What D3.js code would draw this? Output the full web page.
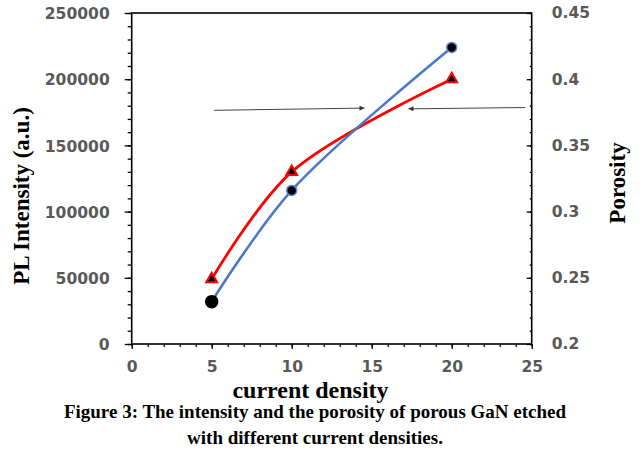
<!DOCTYPE html>
<html>
<head>
<meta charset="utf-8">
<script src="https://cdn.jsdelivr.net/npm/d3@7/dist/d3.min.js"></script>
<style>
  html, body { margin: 0; padding: 0; background: #ffffff; }
  svg { display: block; }
</style>
</head>
<body>
<svg id="chart" width="643" height="460"></svg>
<script>
// ---- data ----
const currentDensity = [5, 10, 20];
const plIntensity = [49000, 130000, 200000];      // red triangles, left axis
const porosity = [0.232, 0.316, 0.424];           // blue circles, right axis
const xTickValues = [0, 5, 10, 15, 20, 25];
const leftTickValues = [0, 50000, 100000, 150000, 200000, 250000];
const rightTickValues = [0.2, 0.25, 0.3, 0.35, 0.4, 0.45];
const rightTickLabels = ["0.2", "0.25", "0.3", "0.35", "0.4", "0.45"];
const arrowStarts = [[5.15, 176500], [24.6, 178600]];
const arrowEnds = [[14.55, 178200], [17.3, 177600]];
const xTitle = "current density";
const leftTitle = "PL Intensity (a.u.)";
const rightTitle = "Porosity";
const captionLines = [
  "Figure 3: The intensity and the porosity of porous GaN etched",
  "with different current densities."
];

// ---- layout ----
const svg = d3.select("#chart");
svg.append("rect").attr("width", 643).attr("height", 460).attr("fill", "#fff");

const L = 131.7, R = 531.7, T = 13, B = 344;
const x = d3.scaleLinear().domain([0, 25]).range([L, R]);
const yL = d3.scaleLinear().domain([0, 250000]).range([B, T]);
const yR = d3.scaleLinear().domain([0.2, 0.45]).range([B, T]);

const tickFont = "'DejaVu Sans', Verdana, sans-serif";
const tickColor = "#595959";

// measure tick font so that "250000" is ~65px wide as in the reference
const probe = svg.append("text").attr("font-family", tickFont).attr("font-weight", "bold")
  .attr("font-size", 15).text("250000");
const probeLen = probe.node().getComputedTextLength() || 62;
probe.remove();
const tickSize = Math.max(13, Math.min(17.5, 15 * 65 / probeLen));

function styleAxis(g) {
  g.select(".domain").remove();
  g.selectAll(".tick line").attr("stroke", "#000").attr("stroke-width", 1.3);
  g.selectAll(".tick text")
    .attr("font-family", tickFont).attr("font-weight", "bold")
    .attr("font-size", tickSize).attr("fill", tickColor);
}

// minor ticks
svg.append("g").attr("transform", `translate(${L},0)`)
  .call(d3.axisLeft(yL).tickValues(d3.range(0, 250001, 10000)).tickSize(4).tickFormat(""))
  .call(styleAxis);
svg.append("g").attr("transform", `translate(0,${B})`)
  .call(d3.axisBottom(x).tickValues(d3.range(0, 26, 1)).tickSize(3).tickFormat(""))
  .call(styleAxis);
svg.append("g").attr("transform", `translate(${R},0)`)
  .call(d3.axisLeft(yR).tickValues(d3.range(20, 46, 1).map(v => v / 100)).tickSize(2).tickFormat(""))
  .call(styleAxis);

// major ticks with labels
svg.append("g").attr("transform", `translate(${L},0)`)
  .call(d3.axisLeft(yL).tickValues(leftTickValues).tickSize(7).tickPadding(15).tickFormat(d3.format("d")))
  .call(styleAxis)
  .selectAll(".tick text").attr("dy", "0.36em");
svg.append("g").attr("transform", `translate(0,${B})`)
  .call(d3.axisBottom(x).tickValues(xTickValues).tickSize(5).tickPadding(12).tickFormat(d3.format("d")))
  .call(styleAxis);
svg.append("g").attr("transform", `translate(${R},0)`)
  .call(d3.axisRight(yR).tickValues(rightTickValues).tickSize(0).tickPadding(20)
    .tickFormat((d, i) => rightTickLabels[i]))
  .call(styleAxis);
svg.append("g").attr("transform", `translate(${R},0)`)
  .call(d3.axisLeft(yR).tickValues(rightTickValues).tickSize(5).tickFormat(""))
  .call(styleAxis);

// frame
svg.append("rect").attr("x", L).attr("y", T).attr("width", R - L).attr("height", B - T)
  .attr("fill", "none").attr("stroke", "#000").attr("stroke-width", 1.6);

// ---- series ----
const curve = d3.curveCatmullRom.alpha(0.5);
const redData = currentDensity.map((c, i) => [c, plIntensity[i]]);
const blueData = currentDensity.map((c, i) => [c, porosity[i]]);

svg.append("path").datum(redData)
  .attr("d", d3.line().x(d => x(d[0])).y(d => yL(d[1])).curve(curve))
  .attr("fill", "none").attr("stroke", "#ff0000").attr("stroke-width", 2.8);
svg.append("path").datum(blueData)
  .attr("d", d3.line().x(d => x(d[0])).y(d => yR(d[1])).curve(curve))
  .attr("fill", "none").attr("stroke", "#4a78c8").attr("stroke-width", 2.6);

// markers
const tri = d3.symbol().type(d3.symbolTriangle).size(52);
svg.selectAll(".tri").data(redData).enter().append("path")
  .attr("transform", d => `translate(${x(d[0])},${yL(d[1])})`)
  .attr("d", tri).attr("fill", "#000").attr("stroke", "#ff0000").attr("stroke-width", 2);
svg.selectAll(".circ").data(blueData).enter().append("circle")
  .attr("cx", d => x(d[0])).attr("cy", d => yR(d[1]))
  .attr("r", (d, i) => i === 0 ? 6 : 5)
  .attr("fill", "#000")
  .attr("stroke", (d, i) => i === 0 ? "#000" : "#5b8ad6").attr("stroke-width", 1.5);

// arrows
const defs = svg.append("defs");
defs.append("marker").attr("id", "ah").attr("viewBox", "0 0 10 10")
  .attr("refX", 10).attr("refY", 5).attr("markerWidth", 7).attr("markerHeight", 5)
  .attr("orient", "auto").attr("markerUnits", "userSpaceOnUse")
  .append("path").attr("d", "M0,0 L10,5 L0,10 z").attr("fill", "#333");
arrowStarts.forEach((s, i) => {
  const e = arrowEnds[i];
  svg.append("line")
    .attr("x1", x(s[0])).attr("y1", yL(s[1]))
    .attr("x2", x(e[0])).attr("y2", yL(e[1]))
    .attr("stroke", "#444").attr("stroke-width", 1)
    .attr("marker-end", "url(#ah)");
});

// ---- titles ----
const serif = "'Liberation Serif', 'Times New Roman', serif";
svg.append("text").attr("x", 310.5).attr("y", 397.5).attr("text-anchor", "middle")
  .attr("font-family", serif).attr("font-weight", "bold").attr("font-size", 24)
  .text(xTitle);
svg.append("text").attr("transform", "translate(29,196) rotate(-90)").attr("text-anchor", "middle")
  .attr("font-family", serif).attr("font-weight", "bold").attr("font-size", 23)
  .text(leftTitle);
svg.append("text").attr("transform", "translate(625,183) rotate(-90)").attr("text-anchor", "middle")
  .attr("font-family", serif).attr("font-weight", "bold").attr("font-size", 23)
  .text(rightTitle);
captionLines.forEach((t, i) => {
  svg.append("text").attr("x", 315).attr("y", 418 + i * 25.5).attr("text-anchor", "middle")
    .attr("font-family", serif).attr("font-weight", "bold").attr("font-size", 19)
    .text(t);
});
</script>
</body>
</html>
